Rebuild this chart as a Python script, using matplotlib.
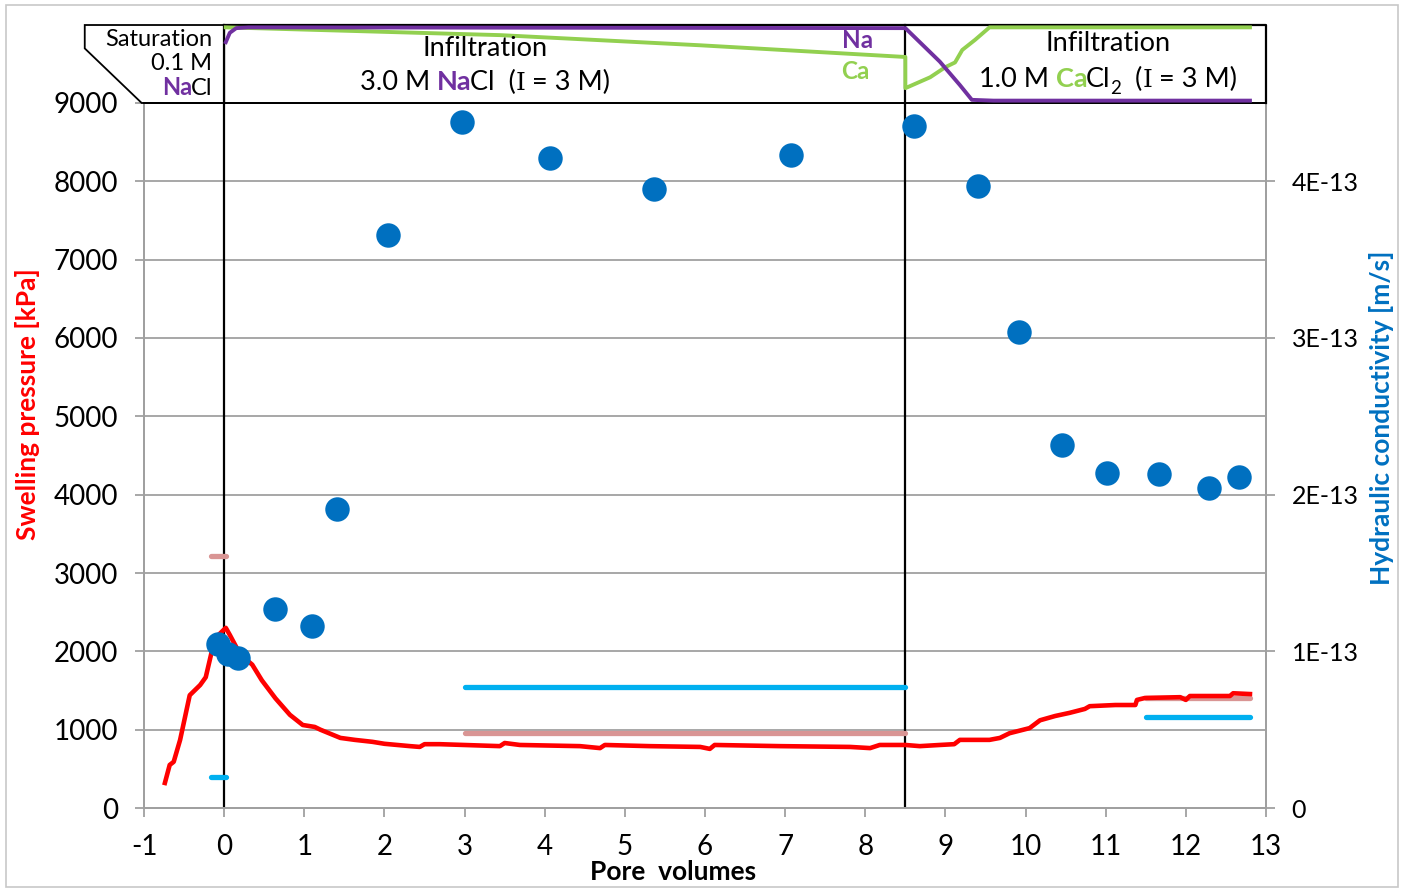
import matplotlib
matplotlib.use('Agg')
import numpy as np
import matplotlib.pyplot as plt
from matplotlib.transforms import offset_copy
from matplotlib.patches import Polygon, Rectangle

plt.rcParams['font.family'] = ['Lato', 'DejaVu Sans']
plt.rcParams['axes.unicode_minus'] = False

# swelling pressure [kPa] vs pore volumes
pv_sp = [-0.74, -0.68, -0.63, -0.55, -0.43, -0.30, -0.23, -0.15, -0.08, 0.02, 0.07, 0.20,
         0.35, 0.47, 0.64, 0.82, 0.98, 1.13, 1.20, 1.45, 1.63, 1.85, 2.00, 2.32, 2.44, 2.50,
         2.69, 3.44, 3.50, 3.69, 4.44, 4.69, 4.75, 5.31, 5.94, 6.06, 6.12, 6.94, 7.81, 8.06,
         8.18, 8.50, 8.68, 8.93, 9.11, 9.18, 9.55, 9.68, 9.80, 10.05, 10.18, 10.37, 10.55,
         10.74, 10.80, 11.12, 11.37, 11.39, 11.49, 11.93, 12.00, 12.05, 12.55, 12.59, 12.80]
sp = [320, 550, 590, 870, 1440, 1570, 1670, 2020, 2200, 2300, 2210, 1960,
      1830, 1630, 1400, 1190, 1060, 1035, 1000, 895, 870, 845, 820, 790, 780, 815,
      815, 790, 830, 805, 790, 765, 805, 790, 780, 755, 805, 790, 780, 765,
      805, 805, 790, 805, 815, 870, 870, 895, 955, 1020, 1120, 1175, 1215,
      1265, 1300, 1315, 1315, 1380, 1405, 1415, 1380, 1430, 1430, 1465, 1455]

# hydraulic conductivity [m/s]
pv_k = [-0.08, 0.05, 0.17, 0.64, 1.10, 1.41, 2.05, 2.97, 4.07, 5.36, 7.07, 8.61, 9.41,
        9.92, 10.46, 11.02, 11.67, 12.29, 12.66]
k = [1.05e-13, 0.98e-13, 0.96e-13, 1.27e-13, 1.16e-13, 1.91e-13, 3.66e-13, 4.38e-13,
     4.15e-13, 3.95e-13, 4.17e-13, 4.35e-13, 3.97e-13, 3.04e-13, 2.32e-13, 2.14e-13,
     2.13e-13, 2.04e-13, 2.11e-13]

# reference levels (start, end, value)
sp_ref = [(-0.17, 0.02, 3220), (3.0, 8.5, 955), (11.5, 12.8, 1400)]
k_ref = [(-0.17, 0.02, 0.20e-13), (3.0, 8.5, 0.77e-13), (11.5, 12.8, 0.58e-13)]

# relative effluent concentrations (top panel)
pv_na = [0.02, 0.07, 0.15, 0.30, 8.50, 8.93, 9.18, 9.33, 9.60, 12.80]
na = [0.78, 0.90, 0.96, 0.97, 0.96, 0.53, 0.23, 0.04, 0.03, 0.03]
pv_ca = [0.02, 3.45, 5.94, 8.50, 8.50, 8.81, 9.00, 9.12, 9.21, 9.37, 9.55, 12.80]
ca = [0.97, 0.87, 0.74, 0.59, 0.19, 0.33, 0.46, 0.52, 0.68, 0.81, 0.97, 0.97]

red = '#FF0000'
blue = '#0070C0'
pink = '#D99594'
cyan = '#00B0F0'
purple = '#7030A0'
green = '#92D050'
grid = '#A0A0A0'

fig = plt.figure(figsize=(14.04, 8.9), dpi=100)
fig.patches.append(Rectangle((0.004, 0.003), 0.992, 0.991, transform=fig.transFigure,
                             fill=False, ec='#C8C8C8', lw=1.2))

L, B, W, H = 0.1026, 0.0921, 0.7991, 0.7922
ax = fig.add_axes([L, B, W, H])
ax2 = ax.twinx()
top = fig.add_axes([L, B + H, W, 0.0876])

ax.set_xlim(-1, 13)
ax.set_ylim(0, 9000)
ax2.set_ylim(0, 4.5e-13)
ax.set_xticks(range(-1, 14))
ax.set_yticks(range(0, 9001, 1000))
ax2.set_yticks([0, 1e-13, 2e-13, 3e-13, 4e-13])
ax2.set_yticklabels(['0', '1E-13', '2E-13', '3E-13', '4E-13'])
ax.yaxis.grid(True, color=grid, lw=1.3)
ax.set_axisbelow(True)
for a in (ax, ax2):
    for s in a.spines.values():
        s.set_color(grid)
        s.set_linewidth(1.3)
    a.spines['top'].set_color('black')
    a.tick_params(labelsize=20, length=6.5, color=grid, width=1.3, pad=12)
ax.tick_params(axis='x', pad=12)
ax2.tick_params(labelsize=18)

ax.axvline(0, color='black', lw=1.6, zorder=2)
ax.axvline(8.5, color='black', lw=1.6, zorder=2)

for x0, x1, v in sp_ref:
    ax.plot([x0, x1], [v, v], color=pink, lw=3.8, solid_capstyle='round', zorder=3)
for x0, x1, v in k_ref:
    ax2.plot([x0, x1], [v, v], color=cyan, lw=3.8, solid_capstyle='round', zorder=3)
ax.plot(pv_sp, sp, color=red, lw=3.3, zorder=4)
ax2.scatter(pv_k, k, s=310, color=blue, zorder=5, linewidths=0)

fig.text(673 / 1404, 1 - 872 / 890, 'Pore  volumes', fontsize=19, weight='bold',
         ha='center', va='center')
fig.text(28 / 1404, 1 - 404 / 890, 'Swelling pressure [kPa]', fontsize=19, weight='bold',
         color=red, rotation=90, ha='center', va='center')
fig.text(1381 / 1404, 1 - 418 / 890, 'Hydraulic conductivity [m/s]', fontsize=19,
         weight='bold', color=blue, rotation=90, ha='center', va='center')

# top panel
top.set_xlim(-1, 13)
top.set_ylim(0, 1)
top.axis('off')
top.plot([0, 13, 13], [1, 1, 0], color='black', lw=1.6, clip_on=False)
top.plot([0, 0], [0, 1], color='black', lw=1.6, clip_on=False)
top.plot([8.5, 8.5], [0, 1], color='black', lw=1.6, clip_on=False)
top.add_patch(Polygon([(-1.74, 1), (-1.74, 0.70), (-1.03, 0), (0, 0), (0, 1)], closed=True,
                      fill=False, ec='black', lw=1.3, clip_on=False))
top.plot(pv_ca, ca, color=green, lw=2.8, clip_on=False)
top.plot(pv_na, na, color=purple, lw=2.8, clip_on=False)

fs = 19.5
fs_box = 17
top.text(-0.15, 0.81, 'Saturation', ha='right', va='center', fontsize=fs_box)
top.text(-0.15, 0.50, '0.1 M', ha='right', va='center', fontsize=fs_box)
top.text(7.9, 0.80, 'Na', ha='center', va='center', fontsize=17.5, weight='bold', color=purple)
top.text(7.87, 0.40, 'Ca', ha='center', va='center', fontsize=17.5, weight='bold', color=green)
top.text(3.255, 0.70, 'Infiltration', ha='center', va='center', fontsize=fs)
top.text(11.03, 0.76, 'Infiltration', ha='center', va='center', fontsize=fs)

renderer = fig.canvas.get_renderer()


def rich(x, y, pieces, align='center'):
    texts, widths = [], []
    for s, c, w, f, dy, fam in pieces:
        t = top.text(x, y, s, color=c, weight=w, fontsize=f, va='baseline', ha='left',
                     family=fam)
        texts.append((t, dy))
        wd = t.get_window_extent(renderer).width
        if w == 'bold':
            wd -= 2
        widths.append(wd)
    total = sum(widths)
    pos = -total / 2 if align == 'center' else -total
    for (t, dy), wd in zip(texts, widths):
        t.set_transform(offset_copy(top.transData, fig=fig, x=pos, y=dy, units='dots'))
        pos += wd


sans = ['Lato', 'DejaVu Sans']
serif = ['DejaVu Serif']
rich(-0.15, 0.10, [('Na', purple, 'bold', fs_box, 0, sans),
                   ('Cl', 'black', 'normal', fs_box, 0, sans)], align='right')
rich(3.255, 0.16, [('3.0 M ', 'black', 'normal', fs, 0, sans),
                   ('Na', purple, 'bold', fs, 0, sans),
                   ('Cl  (', 'black', 'normal', fs, 0, sans),
                   ('I', 'black', 'normal', 18, 0, serif),
                   (' = 3 M)', 'black', 'normal', fs, 0, sans)])
rich(11.03, 0.21, [('1.0 M ', 'black', 'normal', fs, 0, sans),
                   ('Ca', green, 'bold', fs, 0, sans),
                   ('Cl', 'black', 'normal', fs, 0, sans),
                   ('2', 'black', 'normal', 13.5, -7, sans),
                   ('  (', 'black', 'normal', fs, 0, sans),
                   ('I', 'black', 'normal', 18, 0, serif),
                   (' = 3 M)', 'black', 'normal', fs, 0, sans)])

plt.savefig('out.png', dpi=100)
